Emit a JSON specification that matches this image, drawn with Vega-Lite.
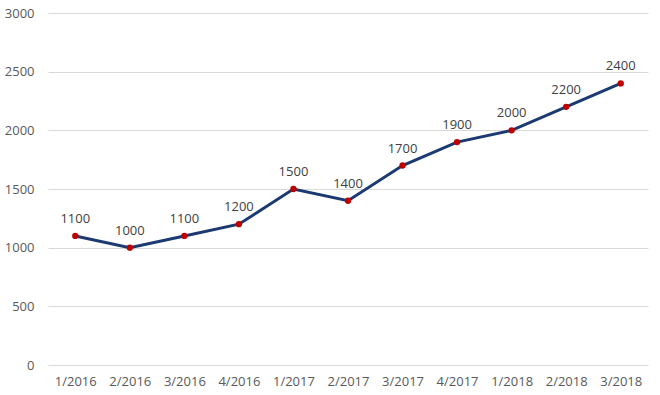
{
  "$schema": "https://vega.github.io/schema/vega-lite/v6.json",
  "width": 600,
  "height": 352,
  "autosize": "none",
  "padding": {"left": 48, "top": 13, "right": 12, "bottom": 30},
  "background": "white",
  "config": {
    "view": {"stroke": null},
    "font": "Open Sans",
    "axis": {"labelFont": "Open Sans", "labelFontSize": 13, "labelColor": "#595959", "ticks": false, "domain": false, "title": null}
  },
  "data": {
    "values": [
      {"q": "1/2016", "v": 1100},
      {"q": "2/2016", "v": 1000},
      {"q": "3/2016", "v": 1100},
      {"q": "4/2016", "v": 1200},
      {"q": "1/2017", "v": 1500},
      {"q": "2/2017", "v": 1400},
      {"q": "3/2017", "v": 1700},
      {"q": "4/2017", "v": 1900},
      {"q": "1/2018", "v": 2000},
      {"q": "2/2018", "v": 2200},
      {"q": "3/2018", "v": 2400}
    ]
  },
  "encoding": {
    "x": {"field": "q", "type": "ordinal", "sort": null, "scale": {"type": "point", "padding": 0.5},
      "axis": {"labelAngle": 0, "grid": false, "labelPadding": 10}},
    "y": {"field": "v", "type": "quantitative", "scale": {"domain": [0, 3000], "nice": false},
      "axis": {"values": [0, 500, 1000, 1500, 2000, 2500, 3000], "format": "d", "gridColor": "#d9d9d9", "gridWidth": 1, "labelPadding": 14}}
  },
  "layer": [
    {"mark": {"type": "line", "color": "#1c3a72", "strokeWidth": 3}},
    {"mark": {"type": "point", "filled": true, "color": "#c00000", "size": 40, "opacity": 1}},
    {"mark": {"type": "text", "dy": -17, "fontSize": 13, "color": "#404040", "font": "Open Sans"},
      "encoding": {"text": {"field": "v", "type": "quantitative"}}}
  ]
}
